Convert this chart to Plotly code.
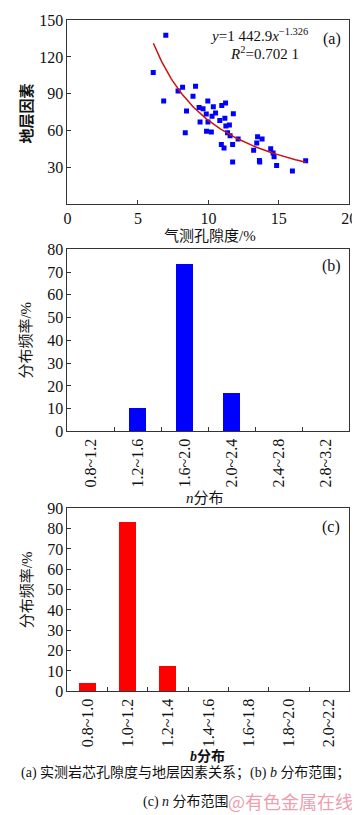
import numpy as np
import plotly.graph_objects as go

# ---------------- data ----------------
porosity = [6.09, 6.98, 6.83, 7.85, 8.17, 9.09, 8.91, 8.45, 8.36, 9.34, 9.62, 9.96,
            9.85, 9.41, 9.97, 9.87, 10.21, 10.26, 10.35, 10.51, 10.81, 10.95, 11.22,
            11.17, 11.24, 11.49, 11.77, 11.36, 11.54, 10.92, 11.11, 11.72, 12.11,
            11.72, 13.49, 13.43, 13.81, 13.21, 13.62, 13.64, 14.42, 14.59, 14.66,
            14.84, 15.96, 16.90]
formation_factor = [107.3, 137.8, 83.9, 92.1, 95.1, 96.1, 87.9, 75.7, 57.9, 78.6, 77.6, 83.9,
                    73.3, 66.7, 66.7, 59.3, 58.7, 71.4, 79.2, 74.1, 68.0, 80.2, 82.3,
                    69.9, 63.5, 64.3, 73.6, 57.9, 55.5, 48.4, 45.5, 48.4, 52.9,
                    34.1, 54.7, 49.7, 52.9, 43.6, 35.4, 34.1, 44.9, 41.5, 38.3,
                    31.2, 26.7, 35.2]
fit_a = 1442.9
fit_b = -1.326
fit_x_min, fit_x_max = 6.1, 16.9

n_categories = ["0.8~1.2", "1.2~1.6", "1.6~2.0", "2.0~2.4", "2.4~2.8", "2.8~3.2"]
n_freq = [0, 10.3, 73.3, 16.7, 0, 0]

b_categories = ["0.8~1.0", "1.0~1.2", "1.2~1.4", "1.4~1.6", "1.6~1.8", "1.8~2.0", "2.0~2.2"]
b_freq = [4.2, 83.3, 12.5, 0, 0, 0, 0]

# ---------------- layout helpers ----------------
W, H = 360, 815
def px(x):
    return x / W
def py(y):
    return 1 - y / H

SERIF = "Liberation Serif, Times New Roman, Noto Sans CJK SC, serif"
CJK = "Liberation Serif, Noto Sans CJK SC, sans-serif"
AX = "#333333"
TICKF = dict(family=SERIF, size=16, color="#111111")

fit_x = np.linspace(fit_x_min, fit_x_max, 120)
fit_y = fit_a * fit_x ** fit_b

fig = go.Figure()
fig.add_trace(go.Scatter(x=porosity, y=formation_factor, mode="markers",
                         marker=dict(symbol="square", size=5, color="#0000FF"),
                         xaxis="x", yaxis="y", showlegend=False))
fig.add_trace(go.Scatter(x=fit_x, y=fit_y, mode="lines",
                         line=dict(color="#CC1111", width=1.5),
                         xaxis="x", yaxis="y", showlegend=False))
fig.add_trace(go.Bar(x=n_categories, y=n_freq, marker=dict(color="#0000FF", line=dict(width=0)),
                     width=0.38, xaxis="x2", yaxis="y2", showlegend=False))
fig.add_trace(go.Bar(x=b_categories, y=b_freq, marker=dict(color="#FF0000", line=dict(width=0)),
                     width=0.42, xaxis="x3", yaxis="y3", showlegend=False))

common_axis = dict(showline=True, linecolor=AX, linewidth=1, mirror=True,
                   showgrid=False, zeroline=False, ticks="inside", ticklen=4,
                   tickcolor=AX, tickwidth=1, tickfont=TICKF)

xdom = [px(57.3), px(349)]

fig.update_layout(
    width=W, height=H, margin=dict(l=0, r=0, t=0, b=0),
    paper_bgcolor="white", plot_bgcolor="white", bargap=0,
    xaxis=dict(domain=xdom, range=[0, 20], tickvals=[0, 5, 10, 15, 20], anchor="y", **common_axis),
    yaxis=dict(domain=[py(191.7), py(4.3)], range=[0, 150], tickvals=[30, 60, 90, 120, 150],
               anchor="x", **common_axis),
    xaxis2=dict(domain=xdom, type="category", range=[-0.5, 5.5], tickson="boundaries",
                tickangle=-90, anchor="y2", **common_axis),
    yaxis2=dict(domain=[py(424.3), py(238.3)], range=[0, 80], dtick=10, anchor="x2", **common_axis),
    xaxis3=dict(domain=xdom, type="category", range=[-0.5, 6.5], tickson="boundaries",
                tickangle=-90, anchor="y3", **common_axis),
    yaxis3=dict(domain=[py(689.7), py(502.7)], range=[0, 90], dtick=10, anchor="x3", **common_axis),
)

def ann(text, x, y, size=15, angle=0, xanchor="center", color="#111111", family=CJK):
    fig.add_annotation(text=text, x=px(x), y=py(y), xref="paper", yref="paper",
                       showarrow=False, textangle=angle, xanchor=xanchor, yanchor="middle",
                       font=dict(family=family, size=size, color=color))

# panel (a)
ann("<i>y</i>=1 442.9<i>x</i><sup>−1.326</sup>", 256, 19, size=15, family=SERIF)
ann("<i>R</i><sup>2</sup>=0.702 1", 261, 38, size=15, family=SERIF)
ann("(a)", 331, 24, size=16, family=SERIF)
ann("<b>地层因素</b>", 15, 100, angle=-90)
ann("气测孔隙度/%", 205, 225)
# panel (b)
ann("(b)", 331, 255, size=16, family=SERIF)
ann("分布频率/%", 15, 331, angle=-90)
ann("<i>n</i>分布", 200, 492)
# panel (c)
ann("(c)", 330, 522, size=16, family=SERIF)
ann("分布频率/%", 15, 586, angle=-90)
ann("<b><i>b</i>分布</b>", 202, 756, size=14)
# caption
ann("(a) 实测岩芯孔隙度与地层因素关系；(b) <i>b</i> 分布范围；", 179, 773, size=14)
ann("(c) <i>n</i> 分布范围", 133, 802, size=14, xanchor="left")
ann("@有色金属在线", 221, 802, size=18, xanchor="left", color="rgba(225,90,115,0.6)",
    family="Noto Sans CJK SC, sans-serif")

fig.write_html("out.html")
